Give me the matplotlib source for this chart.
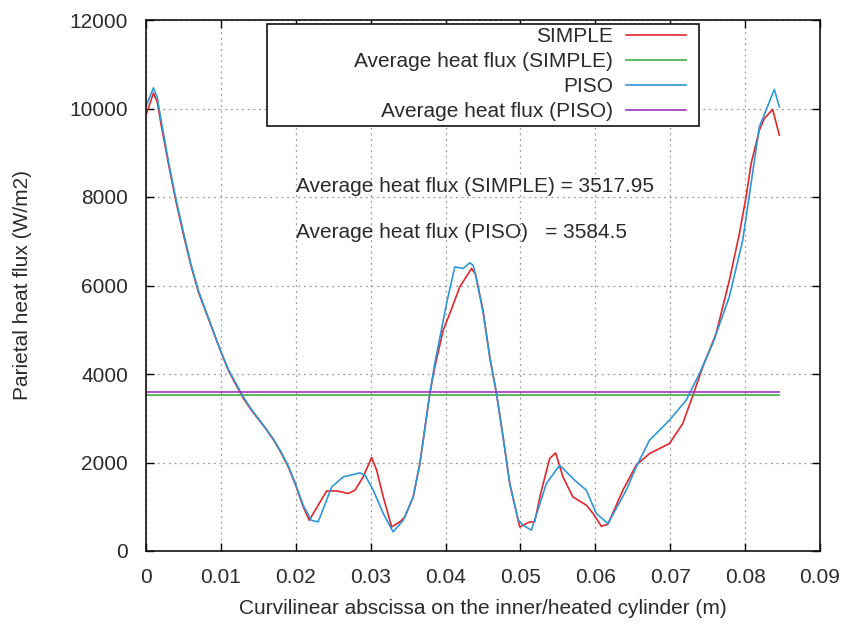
import matplotlib
matplotlib.use("Agg")
import matplotlib.pyplot as plt
from matplotlib.patches import Rectangle

plt.rcParams["font.family"] = ["Liberation Sans", "DejaVu Sans"]

# curvilinear abscissa (m) and parietal heat flux (W/m2)
simple_x = [0.0, 0.001, 0.0015, 0.002, 0.003, 0.004, 0.005, 0.006, 0.007,
            0.008, 0.009, 0.010, 0.011, 0.012, 0.013, 0.014, 0.015, 0.016,
            0.017, 0.018, 0.019, 0.020, 0.021, 0.0218, 0.02413, 0.02547, 0.027,
            0.0279, 0.029, 0.03013, 0.0308, 0.03168, 0.0328, 0.0339, 0.03457,
            0.03568, 0.03657, 0.03746, 0.0379, 0.03857, 0.03968, 0.04057, 0.0419,
            0.04347, 0.0440, 0.045, 0.0459, 0.0468, 0.04768, 0.04857, 0.0499,
            0.05124, 0.0519, 0.0527, 0.0539, 0.0547, 0.05568, 0.057, 0.0588,
            0.0597, 0.0608, 0.06168, 0.06368, 0.06546, 0.06724, 0.0699, 0.07168,
            0.073, 0.07435, 0.07613, 0.0779, 0.07924, 0.08013, 0.0808, 0.0819,
            0.08257, 0.08368, 0.08457]
simple_y = [9850, 10350, 10150, 9650, 8750, 7900, 7150, 6450, 5850,
            5400, 4950, 4500, 4080, 3760, 3450, 3200, 2980, 2760,
            2520, 2230, 1900, 1480, 1000, 696, 1358, 1358, 1300,
            1374, 1675, 2113, 1826, 1223, 545, 658, 771,
            1223, 1977, 3031, 3559, 4161, 4990, 5367, 5969,
            6385, 6250, 5442, 4387, 3559, 2579, 1525, 545,
            658, 658, 1300, 2090, 2217, 1675, 1223, 1035,
            848, 560, 605, 1374, 1939, 2203, 2429, 2881,
            3505, 4161, 4915, 6120, 7176, 8003, 8757, 9510,
            9774, 9978, 9397]

piso_x = [0.0, 0.001, 0.0015, 0.002, 0.003, 0.004, 0.005, 0.006, 0.007,
          0.008, 0.009, 0.010, 0.011, 0.012, 0.013, 0.014, 0.015, 0.016,
          0.017, 0.018, 0.019, 0.020, 0.021, 0.0221, 0.0230, 0.0248, 0.02635,
          0.02857, 0.02924, 0.03035, 0.03168, 0.033, 0.03435, 0.03568, 0.03657,
          0.03746, 0.0379, 0.03857, 0.03968, 0.04013, 0.04124, 0.04235, 0.04324,
          0.04368, 0.0440, 0.045, 0.0459, 0.0468, 0.04768, 0.04857, 0.0497,
          0.05035, 0.05146, 0.05346, 0.05524, 0.05724, 0.0588, 0.06013, 0.06168,
          0.06413, 0.06546, 0.06724, 0.0699, 0.07213, 0.0739, 0.07568, 0.0779,
          0.07968, 0.0806, 0.0819, 0.0828, 0.0839, 0.08457]
piso_y = [10050, 10466, 10250, 9750, 8800, 7950, 7200, 6480, 5880,
          5420, 4960, 4510, 4100, 3790, 3480, 3220, 2990, 2770,
          2530, 2250, 1920, 1500, 1030, 690, 660, 1449, 1675,
          1765, 1713, 1374, 848, 432, 696, 1223, 1977,
          3031, 3559, 4250, 5200, 5593, 6421, 6385, 6511,
          6459, 6250, 5400, 4387, 3559, 2579, 1525, 700,
          583, 470, 1525, 1939, 1600, 1374, 848, 621,
          1374, 1901, 2504, 2956, 3408, 4011, 4689, 5750,
          7024, 8079, 9585, 9962, 10430, 10037]

avg_simple = 3517.95
avg_piso = 3584.5
x_end = 0.08457

C_RED, C_GREEN, C_BLUE, C_PURPLE = "#e0282c", "#3fae3f", "#2f96d8", "#a035c0"
TXT = "#2b2b2b"
FS = 15

fig = plt.figure(figsize=(8.42, 6.30), dpi=100)
ax = fig.add_axes([146 / 842, 79 / 630, 674 / 842, 531 / 630])

ax.plot(simple_x, simple_y, color=C_RED, lw=1.2, label="SIMPLE")
ax.plot([0, x_end], [avg_simple] * 2, color=C_GREEN, lw=1.2,
        label="Average heat flux (SIMPLE)")
ax.plot(piso_x, piso_y, color=C_BLUE, lw=1.2, label="PISO")
ax.plot([0, x_end], [avg_piso] * 2, color=C_PURPLE, lw=1.2,
        label="Average heat flux (PISO)")

ax.set_xlim(0, 0.09)
ax.set_ylim(0, 12000)
ax.set_xticks([0, 0.01, 0.02, 0.03, 0.04, 0.05, 0.06, 0.07, 0.08, 0.09])
ax.set_xticklabels(["0", "0.01", "0.02", "0.03", "0.04", "0.05", "0.06",
                    "0.07", "0.08", "0.09"])
ax.set_yticks(range(0, 12001, 2000))
ax.grid(True, color="#9a9a9a", linestyle=(0, (1.5, 3)), lw=0.9)
ax.tick_params(direction="in", top=True, right=True, length=6, width=1,
               labelsize=FS, labelcolor=TXT)
ax.tick_params(axis="x", pad=12)
ax.tick_params(axis="y", pad=13)
for s in ax.spines.values():
    s.set_linewidth(1.2)
    s.set_color("#111111")

ax.set_xlabel("Curvilinear abscissa on the inner/heated cylinder (m)",
              fontsize=FS, color=TXT, labelpad=9)
ax.set_ylabel("Parietal heat flux (W/m2)", fontsize=FS, color=TXT, labelpad=27)

ax.text(0.02004, 8244, "Average heat flux (SIMPLE) = 3517.95", fontsize=FS,
        color=TXT, va="center", ha="left")
ax.text(0.02004, 7205, "Average heat flux (PISO)   = 3584.5", fontsize=FS,
        color=TXT, va="center", ha="left")

# gnuplot-like key box, wider than its entries
ax.add_patch(Rectangle((267 / 842, (630 - 126) / 630), 432 / 842, 102 / 630,
                       transform=fig.transFigure, facecolor="white",
                       edgecolor="#111111", lw=1.2, zorder=4, clip_on=False))
leg = ax.legend(loc="upper right", bbox_to_anchor=(686 / 842, 603 / 630),
                bbox_transform=fig.transFigure, markerfirst=False,
                fontsize=FS, frameon=False, handlelength=2.9,
                handletextpad=0.6, labelspacing=0.29, borderpad=0,
                borderaxespad=0)
leg.set_zorder(5)
for t in leg.get_texts():
    t.set_color(TXT)

fig.savefig("out.png", dpi=100, facecolor="white")
